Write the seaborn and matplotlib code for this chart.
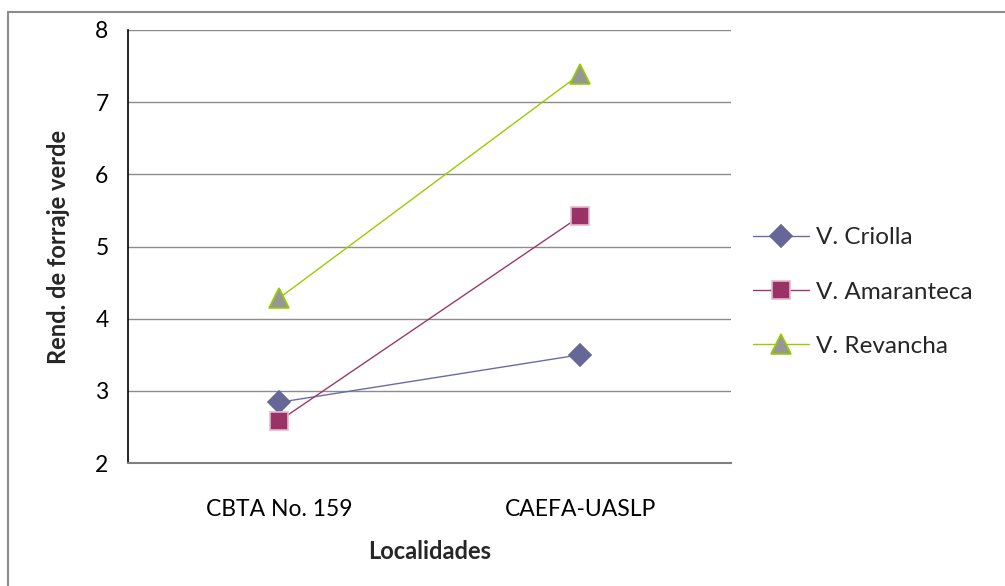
import matplotlib
matplotlib.use("Agg")
import matplotlib.pyplot as plt
import pandas as pd
import seaborn as sns
from matplotlib.patches import Rectangle
from matplotlib.lines import Line2D

# Forage yield by site for three varieties
localidades = ["CBTA No. 159", "CAEFA-UASLP"]
criolla = [2.84, 3.50]
amaranteca = [2.58, 5.42]
revancha = [4.28, 7.39]
variedades = ["V. Criolla", "V. Amaranteca", "V. Revancha"]
y_ticks = [2, 3, 4, 5, 6, 7, 8]

df = pd.DataFrame({
    "Localidades": localidades * 3,
    "Rendimiento": criolla + amaranteca + revancha,
    "Variedad": [v for v in variedades for _ in localidades],
})

sns.set_theme(style="white")
plt.rcParams["font.family"] = ["Lato", "DejaVu Sans"]

W, H = 1005, 586
fig = plt.figure(figsize=(W / 100, H / 100), dpi=100)
fig.patch.set_facecolor("white")

# chart-area frame
fig.patches.append(Rectangle((8 / W, -0.05), 1.1, (H - 12) / H + 0.05,
                             transform=fig.transFigure, fill=False,
                             edgecolor="#8c8c8c", linewidth=1.5, zorder=0))

ax = fig.add_axes([128 / W, 1 - 463 / H, 603 / W, 433 / H])

line_colors = {"V. Criolla": "#6b6ba8", "V. Amaranteca": "#9b3a6a", "V. Revancha": "#99cc00"}
markers = {"V. Criolla": "D", "V. Amaranteca": "s", "V. Revancha": "^"}

sns.lineplot(data=df, x="Localidades", y="Rendimiento", hue="Variedad",
             palette=line_colors, sort=False, linewidth=1.0, legend=False, ax=ax)

face = {"V. Criolla": "#666699", "V. Amaranteca": "#993366", "V. Revancha": "#969696"}
edge = {"V. Criolla": "#666699", "V. Amaranteca": "#e8b8cc", "V. Revancha": "#99cc00"}
msize = {"V. Criolla": 11, "V. Amaranteca": 13, "V. Revancha": 14}
xpos = {loc: i for i, loc in enumerate(localidades)}
for v in variedades:
    sub = df[df["Variedad"] == v]
    ax.plot(sub["Localidades"].map(xpos), sub["Rendimiento"], linestyle="none",
            marker=markers[v], markersize=msize[v], markerfacecolor=face[v],
            markeredgecolor=edge[v], markeredgewidth=1.2, zorder=5)

ax.set_xlim(-0.5, 1.5)
ax.set_ylim(2, 8)
ax.set_yticks(y_ticks)
ax.set_xticks(range(len(localidades)))
ax.set_xticklabels(localidades)
ax.yaxis.grid(True, color="#8c8c8c", linewidth=1.0)
ax.set_axisbelow(True)
for s in ["top", "right"]:
    ax.spines[s].set_visible(False)
ax.spines["left"].set_color("black")
ax.spines["left"].set_linewidth(1.2)
ax.spines["bottom"].set_color("#7f7f7f")
ax.spines["bottom"].set_linewidth(1.5)
ax.tick_params(axis="both", length=0, labelsize=16.5, colors="black")
ax.tick_params(axis="y", pad=14)
ax.tick_params(axis="x", pad=26)

ax.set_xlabel("Localidades", fontsize=17, fontweight="bold", labelpad=14)
ax.set_ylabel("Rend. de forraje verde", fontsize=17, fontweight="bold", labelpad=18)

handles = [Line2D([0], [0], color=line_colors[v], linewidth=1.0, marker=markers[v],
                  markersize=msize[v], markerfacecolor=face[v],
                  markeredgecolor=edge[v], markeredgewidth=1.2) for v in variedades]
leg = fig.legend(handles, variedades, loc="center left",
                 bbox_to_anchor=(731 / W, 1 - 292 / H), frameon=False,
                 fontsize=17.5, handlelength=2.3, labelspacing=1.36, handletextpad=0.3)

fig.savefig("out.png", dpi=100)
